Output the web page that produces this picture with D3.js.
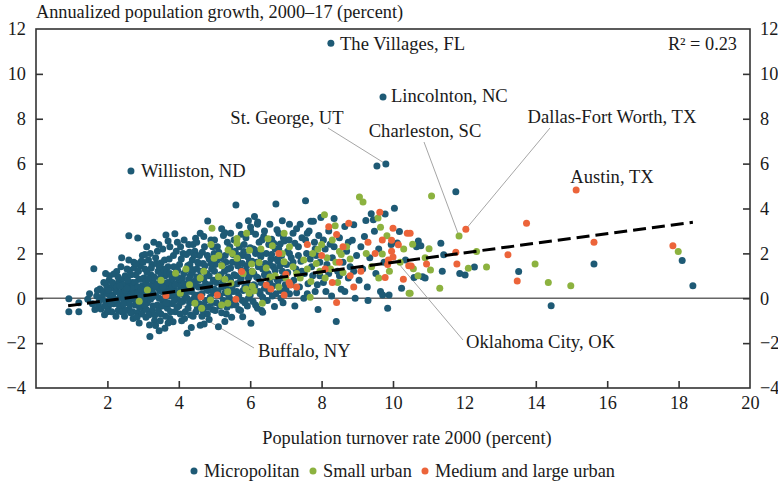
<!DOCTYPE html>
<html>
<head>
<meta charset="utf-8">
<script src="https://cdn.jsdelivr.net/npm/d3@7"></script>
<style>
  body { margin: 0; background: #fff; }
  svg text { font-family: "Liberation Serif", "DejaVu Serif", serif; fill: #1a1a1a; }
</style>
</head>
<body>
<svg id="chart" width="778" height="482"></svg>
<script>
'use strict';

// turnover rate 2000 (%), annualized growth 2000-17 (%)
let micropolitan = [
  [0.92,-0.02],[0.92,-0.6],[1.2,-0.6],[1.2,-0.2],[1.45,-0.05],[1.58,-0.25],[1.62,1.32],[1.5,0.2],
  [1.7,0.1],[1.75,-0.3],[1.79,0.41],[1.82,-0.48],[1.85,0.05],[1.88,0.3],[1.92,-0.74],[1.95,-0.15],[1.98,0.55],[2.0,0.2],[2.02,-0.4],[2.05,0.8],[2.08,-0.05],[2.1,0.45],[2.12,-0.6],[2.15,0.15],[2.18,1.08],[2.18,-0.25],[2.2,0.6],
  [2.26,1.19],[2.25,0.3],[2.28,-0.1],[2.3,-0.55],[2.32,0.75],[2.35,0.05],[2.38,1.4],[2.4,0.82],[2.42,-0.35],[2.45,0.4],[2.48,-0.8],[2.5,1.0],[2.52,0.15],[2.54,0.94],[2.55,-0.2],[2.58,0.6],[2.6,2.78],[2.6,-0.5],[2.62,1.25],[2.65,0.25],[2.68,-0.05],[2.7,0.7],[2.72,-0.9],[2.74,1.6],[2.76,0.45],[2.78,-0.3],[2.8,1.05],[2.82,0.1],[2.85,2.69],[2.85,-0.65],[2.88,0.85],[2.89,-1.1],[2.9,0.35],[2.92,1.45],[2.95,-0.15],[2.97,0.55],[2.98,1.9],
  [3.0,-0.45],[3.02,0.9],[3.05,0.2],[3.05,1.3],[3.08,-0.85],[3.1,0.6],[3.12,-0.2],[3.15,1.7],[3.15,0.05],[3.18,-1.19],[3.19,-1.71],[3.2,0.4],[3.22,1.05],[3.25,-0.55],[3.28,0.75],[3.3,2.5],[3.3,0.15],[3.32,-1.0],[3.35,1.8],[3.35,-1.22],[3.38,0.5],[3.4,-0.3],[3.42,1.2],[3.45,0.0],[3.48,0.9],[3.5,1.57],[3.5,-0.7],[3.52,0.3],[3.55,2.2],[3.55,-0.1],[3.58,0.65],[3.61,-1.34],[3.62,1.0],[3.64,2.82],[3.65,0.2],[3.68,-0.45],[3.7,1.4],[3.72,0.5],[3.75,-0.9],[3.78,0.1],[3.8,0.8],[3.82,-0.25],[3.85,1.9],[3.88,0.35],[3.89,2.87],[3.9,-0.6],[3.92,1.15],[3.95,0.05],[3.96,2.5],[3.98,0.7],[3.4,2.1],[3.6,1.7],[3.75,2.3],[3.25,1.5],[3.45,-1.45],[3.7,-1.1],
  [4.0,-0.35],[4.02,1.5],[4.05,0.45],[4.08,-1.0],[4.1,0.9],[4.12,2.0],[4.15,0.15],[4.18,-0.6],[4.2,1.25],[4.23,-1.56],[4.25,0.6],[4.28,2.4],[4.3,-0.2],[4.32,1.0],[4.35,0.3],[4.38,1.7],[4.4,-0.8],[4.42,0.75],[4.45,2.1],[4.47,2.67],[4.48,0.0],[4.5,1.3],[4.52,-0.45],[4.55,0.5],[4.58,1.9],[4.6,-1.2],[4.62,0.9],[4.65,0.2],[4.68,1.55],[4.7,-0.3],[4.71,-1.15],[4.72,2.3],[4.75,0.65],[4.78,1.1],[4.8,-0.7],[4.81,3.44],[4.82,0.35],[4.85,1.75],[4.88,0.05],[4.9,2.6],[4.92,1.3],[4.95,-0.5],[4.97,0.8],[4.99,2.0],[4.15,2.6],[4.35,-1.3],[4.6,2.9],[4.25,1.45],[4.55,1.55],[4.85,-0.95],
  [5.0,0.4],[5.02,1.5],[5.05,-0.2],[5.08,2.3],[5.1,0.9],[5.11,-1.27],[5.15,0.1],[5.18,1.8],[5.2,-0.65],[5.22,0.65],[5.25,2.8],[5.28,1.2],[5.29,2.92],[5.29,-1.04],[5.3,0.25],[5.32,1.6],[5.35,-0.4],[5.36,2.5],[5.38,0.95],[5.4,2.1],[5.42,0.0],[5.45,1.35],[5.48,-0.85],[5.5,0.55],[5.52,1.95],[5.55,2.6],[5.55,-0.15],[5.6,4.16],[5.6,1.0],[5.62,0.3],[5.65,1.7],[5.68,-0.5],[5.69,3.24],[5.7,2.3],[5.72,0.75],[5.75,1.25],[5.78,-0.1],[5.79,-0.82],[5.8,1.9],[5.82,2.08],[5.85,0.5],[5.88,2.7],[5.9,1.45],[5.92,-0.35],[5.95,0.9],[5.98,1.65],[6.0,0.15],
  [6.01,3.18],[6.02,2.97],[6.02,-1.11],[6.05,1.2],[6.08,2.2],[6.1,0.6],[6.12,3.64],[6.13,2.15],[6.15,-0.3],[6.18,1.6],[6.2,3.3],[6.21,3.4],[6.22,0.9],[6.25,2.5],[6.28,0.2],[6.3,1.85],[6.32,-0.55],[6.35,-0.62],[6.35,1.3],[6.38,2.75],[6.4,0.45],[6.42,1.55],[6.45,2.0],[6.48,-0.1],[6.5,1.1],[6.52,2.4],[6.55,0.7],[6.58,1.75],[6.6,2.63],[6.62,0.1],[6.65,1.4],[6.68,-0.37],[6.7,2.2],[6.72,4.2],[6.75,0.85],[6.78,1.65],[6.8,2.9],[6.84,2.42],[6.85,0.35],[6.88,1.9],[6.9,1.2],[6.92,-0.2],[6.95,2.55],[6.98,0.6],
  [7.02,1.5],[7.05,2.1],[7.09,2.6],[7.1,0.2],[7.15,1.8],[7.2,2.9],[7.22,0.8],[7.25,-0.35],[7.28,1.3],[7.3,3.1],[7.35,2.3],[7.38,0.5],[7.42,1.65],[7.45,2.7],[7.5,0.0],[7.52,1.1],[7.55,4.35],[7.58,2.0],[7.62,0.65],[7.65,3.0],[7.7,3.43],[7.72,1.4],[7.77,3.43],[7.8,2.5],[7.82,0.3],[7.85,1.9],[7.9,-0.5],[7.92,2.8],[7.95,1.0],[7.98,3.6],
  [8.05,0.7],[8.1,2.2],[8.15,1.5],[8.2,3.0],[8.24,2.41],[8.28,0.1],[8.3,1.8],[8.35,3.55],[8.41,-1.04],[8.45,1.2],[8.5,2.7],[8.55,0.4],[8.6,1.6],[8.65,3.2],[8.7,2.1],[8.75,0.9],[8.8,1.4],[8.86,2.58],[8.9,3.28],[8.94,0.0],[8.98,1.9],
  [9.05,0.8],[9.1,2.3],[9.15,1.3],[9.2,2.75],[9.24,3.46],[9.28,0.5],[9.3,-0.1],[9.35,1.8],[9.39,3.77],[9.45,3.5],[9.48,2.99],[9.52,1.1],[9.55,5.89],[9.6,2.2],[9.65,0.3],[9.71,0.15],[9.72,8.97],[9.75,1.6],[9.78,3.76],[9.8,5.98],[9.85,-0.45],[9.89,0.15],[9.95,2.4],[10.04,4.01],
  [10.12,2.46],[10.18,2.97],[10.24,0.45],[10.35,1.7],[10.59,0.92],[10.66,2.3],[10.71,2.55],[10.78,2.34],[10.83,0.96],[10.9,0.9],[11.34,2.45],[11.38,1.2],[11.42,1.94],[11.76,4.75],[11.87,1.1],[12.02,1.04],[12.28,1.39],[13.52,1.19],[14.43,-0.33],[15.63,1.53],[18.1,1.68],[18.4,0.56],
  [8.26,11.37],[2.66,5.67],
  [1.65,-0.5],[1.72,0.35],[1.78,-0.1],[1.9,0.7],[1.93,-0.35],[2.0,-0.6],[2.03,0.35],[2.06,1.0],[2.1,-0.25],[2.14,0.7],[2.2,-0.05],[2.24,-0.8],[2.27,0.5],[2.3,0.95],[2.33,-0.3],[2.36,0.25],[2.4,-0.6],[2.43,0.6],[2.46,-0.05],[2.5,0.35],
  [2.52,-0.55],[2.55,1.3],[2.57,0.8],[2.6,0.05],[2.63,-0.3],[2.66,1.05],[2.68,0.45],[2.71,-0.6],[2.73,0.2],[2.75,1.35],[2.78,0.7],[2.8,-0.1],[2.83,-0.85],[2.85,0.5],[2.87,1.2],[2.9,-0.4],[2.93,0.1],[2.95,0.85],[2.97,-0.7],[3.0,1.6],[3.02,0.35],[3.04,-0.1],[3.07,0.75],[3.09,-0.5],[3.11,1.15],[3.13,0.25],[3.16,-0.75],[3.18,0.55],[3.21,-0.05],[3.23,1.35],[3.26,0.3],[3.28,-0.35],[3.31,0.95],[3.33,-0.75],[3.36,0.1],[3.38,1.55],[3.41,0.65],[3.43,-0.55],[3.46,0.35],[3.48,-1.0],[3.5,1.1],[3.44,2.4],[3.2,2.0],[3.05,1.95],[2.95,1.65],
  [3.52,0.75],[3.54,-0.35],[3.56,1.3],[3.59,0.0],[3.61,0.45],[3.63,-0.8],[3.66,1.15],[3.68,0.7],[3.7,-0.2],[3.73,1.75],[3.75,0.3],[3.77,-0.6],[3.79,1.0],[3.82,0.55],[3.84,-1.05],[3.86,1.4],[3.88,-0.1],[3.9,0.6],[3.93,2.1],[3.95,-0.4],[3.97,1.25],[4.0,0.2],[4.02,0.85],[4.04,-0.7],[4.07,1.75],[4.09,0.35],[4.11,-0.15],[4.14,1.1],[4.16,-0.9],[4.19,0.55],[4.21,1.95],[4.23,0.0],[4.26,-0.45],[4.28,0.85],[4.31,1.5],[4.33,-0.75],[4.36,0.45],[4.38,1.15],[4.41,-0.05],[4.43,1.9],[4.46,0.6],[4.48,-0.6],[4.5,0.95],[4.4,2.4],[4.05,2.3],
  [4.53,1.6],[4.56,0.15],[4.58,-0.25],[4.61,1.2],[4.63,0.5],[4.66,2.05],[4.68,-0.55],[4.7,0.85],[4.73,1.45],[4.75,-0.1],[4.78,0.4],[4.8,1.9],[4.83,-0.4],[4.85,1.0],[4.87,0.6],[4.9,1.55],[4.92,-0.2],[4.95,2.3],[4.97,0.25],[5.0,1.2],[5.02,-0.55],[5.05,0.7],[5.07,1.7],[5.1,0.3],[5.12,2.05],[5.15,-0.35],[5.17,1.05],[5.2,0.5],[5.22,1.5],[5.25,-0.1],[5.27,0.85],[5.3,1.9],[5.33,-0.7],[5.35,0.55],[5.38,1.3],[5.4,0.1],[5.43,2.3],[5.45,0.8],[5.48,-0.3],[5.5,1.6],
  [5.52,0.3],[5.55,1.05],[5.58,2.1],[5.6,-0.3],[5.63,0.65],[5.65,1.45],[5.68,0.1],[5.7,1.9],[5.73,-0.55],[5.75,0.9],[5.78,1.55],[5.8,0.35],[5.83,2.4],[5.85,-0.2],[5.88,1.2],[5.9,0.6],[5.93,1.85],[5.95,0.0],[5.98,1.0],[6.0,2.25],[6.03,0.4],[6.05,1.65],[6.08,-0.15],[6.1,1.1],[6.13,0.55],[6.15,2.0],[6.18,0.95],[6.2,-0.45],[6.23,1.4],[6.25,0.3],[6.28,1.95],[6.3,0.7],[6.33,2.6],[6.35,0.05],[6.4,1.05],
  [6.52,0.3],[6.55,1.5],[6.58,0.95],[6.6,1.95],[6.63,0.55],[6.66,2.45],[6.7,1.25],[6.72,0.2],[6.75,1.75],[6.78,0.75],[6.8,2.2],[6.83,1.45],[6.86,0.0],[6.9,0.9],[6.93,2.7],[6.97,1.55],[7.0,0.4],[7.05,1.15],[7.1,2.0],[7.15,0.6],[7.2,1.6],[7.25,2.45],[7.3,0.25],[7.35,1.9],[7.45,1.2],
  [7.55,2.6],[7.6,0.2],[7.68,1.75],[7.75,1.0],[7.82,2.2],[7.88,0.6],[7.95,1.6],[8.05,2.6],[8.12,0.3],[8.2,1.1],[8.35,2.3],[8.5,1.0],[8.65,0.3],[8.75,2.5],[8.9,1.2],
  [2.35,0.55],[2.45,-0.25],[2.55,0.45],[2.65,-0.65],[2.75,0.0],[2.85,0.25],[2.95,0.4],[3.05,-0.3],[3.15,0.85],[3.25,0.05],[3.35,0.55],[3.45,1.4],[3.55,0.5],[3.65,-0.2],[3.75,1.1],[3.85,0.2],[3.95,0.95],[4.05,-0.15],[4.15,0.65],[4.25,0.3],[4.35,1.3],[4.45,0.15],[4.55,0.8],[4.65,-0.8],
  [4.3,2.05],[4.5,2.5],[4.7,2.75],[5.0,2.6],[5.2,3.1],[5.45,2.9],[5.75,2.85],[5.95,3.45],[6.15,2.85],[6.4,3.0],[6.55,3.3],[6.75,3.05],[6.9,3.45],[7.1,3.3],[7.4,3.3],[7.6,2.9],[3.7,2.55],[3.1,2.3],[2.8,1.55],[2.6,1.7],[2.4,1.8],[1.95,1.1]
];

let smallUrban = [
  [2.89,-0.13],[3.12,0.37],[3.91,1.11],[4.04,0.22],[4.45,-0.22],[4.64,-0.45],[4.89,-0.08],[4.93,3.12],[4.99,1.78],[5.11,0.96],[5.12,1.9],[5.29,0.85],[5.37,-0.22],[5.37,0.29],[5.38,2.15],[5.46,0.67],[5.63,2.66],[5.63,2.45],[5.63,1.78],[5.88,0.41],[5.97,0.22],[5.98,2.14],[6.04,1.53],[6.06,0.52],[6.06,1.19],[6.11,0.33],[6.25,1.59],[6.34,-0.22],[6.62,2.34],[6.95,2.9],[6.95,1.63],[7.68,0.05],[7.9,2.18],[8.08,3.72],[8.38,3.23],[8.5,2.08],[9.06,4.51],[9.16,4.29],[9.58,3.58],[9.65,3.16],[9.7,1.97],[9.83,2.78],[10.45,0.22],[10.48,0.22],[10.55,2.41],[10.57,1.31],[11.01,2.21],[11.05,1.26],[11.08,4.56],[11.31,0.45],[11.85,2.77],[12.11,1.34],[12.34,2.08],[12.62,1.39],[13.98,1.53],[14.35,0.7],[14.98,0.56],[17.99,2.08],
  [7.2,1.4],[7.3,1.1],[7.4,0.9],[7.5,1.7],[7.6,1.3],[7.7,0.75],[7.75,2.0],[7.85,1.55],[7.95,1.2],[8.0,2.4],[8.1,0.9],[8.15,1.8],[8.25,1.3],[8.3,2.6],[8.4,1.6],[8.45,0.7],[8.55,1.95],[8.6,1.15],[8.7,2.3],[8.8,1.75],[6.7,1.0],[6.8,0.5],[6.9,2.0],[7.0,0.9],[7.1,2.3],[9.25,2.0],[9.4,1.4],[9.6,0.9],[10.2,1.6],[10.3,2.2],[9.9,1.2],[6.45,1.35],[6.55,0.95],[4.3,0.6],[4.7,1.2],[5.8,1.1],[6.3,2.2],[5.2,1.45],[10.9,1.8],[10.7,1.0],
  [4.2,1.3],[4.9,2.4],[5.5,2.0],[5.9,2.9],[6.5,2.65],[4.6,0.9],[3.5,0.8],[5.2,-0.3]
];

let mediumLargeUrban = [
  [3.64,0.12],[4.62,0.07],[5.08,0.15],[5.6,-0.05],[5.76,1.19],[6.45,0.59],[6.58,0.41],[6.95,0.15],[7.0,1.07],[7.09,0.7],[7.12,0.59],[8.2,3.19],[8.42,2.84],[8.42,-0.19],[8.76,3.34],[9.63,3.83],[9.78,0.92],[9.96,2.09],[10.0,3.12],[10.0,1.84],[10.29,0.85],[10.4,2.9],[10.48,2.9],[10.51,1.44],[10.94,1.53],[11.76,2.05],[11.79,1.53],[12.04,3.08],[13.22,1.94],[13.48,0.77],[13.74,3.34],[15.13,4.82],[15.63,2.5],[17.84,2.34],
  [8.0,1.9],[8.1,1.3],[8.3,0.7],[8.5,1.6],[8.6,2.3],[8.8,1.0],[9.1,1.2],[9.3,2.5],[9.5,2.0],[9.7,2.6],[9.85,1.5],[9.96,2.58],[10.15,2.38],[9.87,1.71],[10.44,1.45],[7.3,0.5],[7.6,2.4],[6.8,2.0],[8.9,0.5]
];

let xTicks = [2, 4, 6, 8, 10, 12, 14, 16, 18, 20];
let yTicks = [-4, -2, 0, 2, 4, 6, 8, 10, 12];
let trendX = [0.9, 18.4];
let trendCoef = { slope: 0.213, intercept: -0.53 };
let seriesNames = ['Micropolitan', 'Small urban', 'Medium and large urban'];
let seriesColors = ['#1e5a75', '#8cb23f', '#ec643a'];

// labelled areas: name, the area's point, label x / baseline / anchor, leader end (or null)
let callouts = [
  { name: 'The Villages, FL', point: [8.26, 11.37], lx: 340, ly: 50, anchor: 'start', end: null },
  { name: 'Lincolnton, NC', point: [9.72, 8.97], lx: 391, ly: 102, anchor: 'start', end: null },
  { name: 'Williston, ND', point: [2.66, 5.67], lx: 141, ly: 177, anchor: 'start', end: null },
  { name: 'St. George, UT', point: [9.8, 5.98], lx: 287, ly: 124, anchor: 'middle', end: [328, 128] },
  { name: 'Charleston, SC', point: [11.85, 2.77], lx: 425, ly: 137, anchor: 'middle', end: [424, 142] },
  { name: 'Dallas-Fort Worth, TX', point: [12.04, 3.08], lx: 612, ly: 123, anchor: 'middle', end: [550, 128] },
  { name: 'Austin, TX', point: [15.13, 4.82], lx: 612, ly: 183, anchor: 'middle', end: null },
  { name: 'Buffalo, NY', point: [3.64, 0.12], lx: 258, ly: 357, anchor: 'start', end: [254, 348] },
  { name: 'Oklahoma City, OK', point: [10.0, 1.84], lx: 466, ly: 348, anchor: 'start', end: [463, 340] }
];

let svg = d3.select('#chart');
let margin = { left: 36, top: 29, right: 28, bottom: 94 };
let width = 778 - margin.left - margin.right;
let height = 482 - margin.top - margin.bottom;

let x = d3.scaleLinear().domain([0, 20]).range([margin.left, margin.left + width]);
let y = d3.scaleLinear().domain([-4, 12]).range([margin.top + height, margin.top]);

let fontSize = '18.3px';

// zero line
svg.append('line')
  .attr('x1', x(0)).attr('x2', x(20))
  .attr('y1', y(0)).attr('y2', y(0))
  .attr('stroke', '#666').attr('stroke-width', 1.6);

// leader lines
callouts.filter(c => c.end).forEach(function(c) {
  svg.append('line')
    .attr('x1', x(c.point[0])).attr('y1', y(c.point[1]))
    .attr('x2', c.end[0]).attr('y2', c.end[1])
    .attr('stroke', '#a6a6a6').attr('stroke-width', 1);
});

// points
[micropolitan, smallUrban, mediumLargeUrban].forEach(function(data, i) {
  svg.append('g').selectAll('circle')
    .data(data)
    .join('circle')
    .attr('cx', d => x(d[0]))
    .attr('cy', d => y(d[1]))
    .attr('r', 3.5)
    .attr('fill', seriesColors[i]);
});

// trend
svg.append('line')
  .attr('x1', x(trendX[0])).attr('y1', y(trendCoef.intercept + trendCoef.slope * trendX[0]))
  .attr('x2', x(trendX[1])).attr('y2', y(trendCoef.intercept + trendCoef.slope * trendX[1]))
  .attr('stroke', '#000').attr('stroke-width', 3)
  .attr('stroke-dasharray', '13,6');

// frame
svg.append('rect')
  .attr('x', x(0)).attr('y', y(12))
  .attr('width', width).attr('height', height)
  .attr('fill', 'none').attr('stroke', '#333').attr('stroke-width', 1.6);

// axes
let fmt = d => d < 0 ? '\u2212' + (-d) : d;
let axisLeft = d3.axisLeft(y).tickValues(yTicks).tickSize(-7).tickPadding(10).tickFormat(fmt);
let axisRight = d3.axisRight(y).tickValues(yTicks).tickSize(-7).tickPadding(10).tickFormat(fmt);
let axisBottom = d3.axisBottom(x).tickValues(xTicks).tickSize(-7).tickPadding(8);

function styleAxis(g) {
  g.select('.domain').remove();
  g.selectAll('.tick line').attr('stroke', '#333').attr('stroke-width', 1.6);
  g.selectAll('.tick text')
    .style('font-family', '"Liberation Serif", serif')
    .style('font-size', fontSize)
    .attr('fill', '#1a1a1a');
}

svg.append('g').attr('transform', `translate(${x(0)},0)`).call(axisLeft).call(styleAxis);
svg.append('g').attr('transform', `translate(${x(20)},0)`).call(axisRight).call(styleAxis);
svg.append('g').attr('transform', `translate(0,${y(-4)})`).call(axisBottom).call(styleAxis);

// no tick marks at the frame corners
svg.selectAll('.tick').filter(d => d === 12 || d === -4 || d === 20).select('line').remove();

// titles
svg.append('text')
  .attr('x', 36).attr('y', 18)
  .style('font-size', fontSize)
  .text('Annualized population growth, 2000\u201317 (percent)');

svg.append('text')
  .attr('x', 407).attr('y', 444)
  .attr('text-anchor', 'middle')
  .style('font-size', fontSize)
  .text('Population turnover rate 2000 (percent)');

svg.append('text')
  .attr('x', 737).attr('y', 50)
  .attr('text-anchor', 'end')
  .style('font-size', fontSize)
  .text('R\u00b2 = 0.23');

// callout labels
callouts.forEach(function(c) {
  svg.append('text')
    .attr('x', c.lx).attr('y', c.ly)
    .attr('text-anchor', c.anchor)
    .style('font-size', '18.6px')
    .text(c.name);
});

// legend
let legendX = [194, 313, 425];
seriesNames.forEach(function(name, i) {
  let g = svg.append('g').attr('transform', `translate(${legendX[i]},471)`);
  g.append('circle').attr('r', 3.5).attr('fill', seriesColors[i]);
  g.append('text').attr('x', 10).attr('y', 6)
    .style('font-size', fontSize)
    .text(name);
});
</script>
</body>
</html>
